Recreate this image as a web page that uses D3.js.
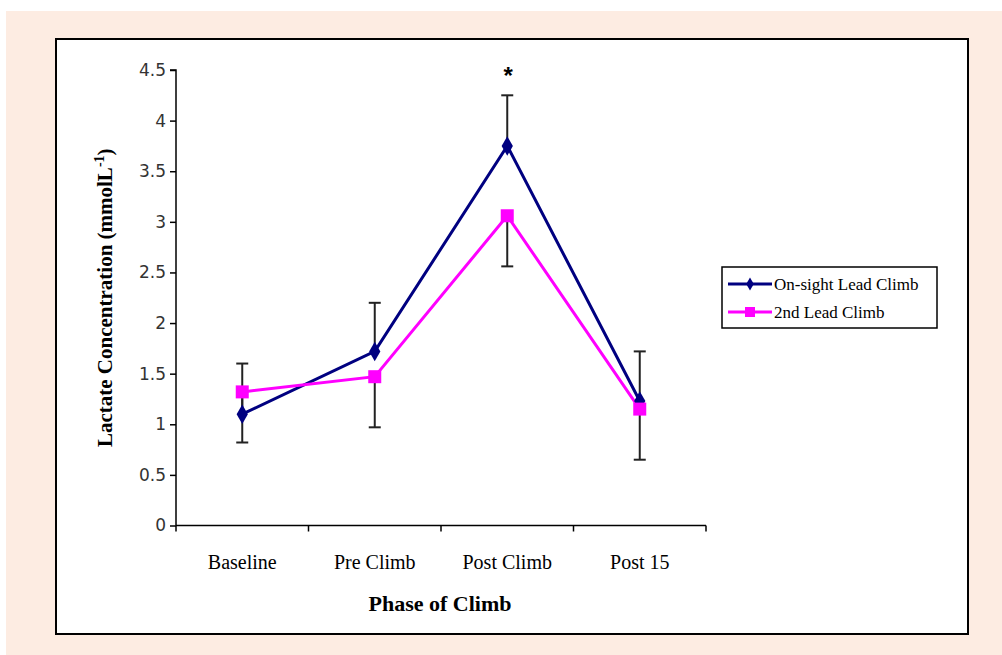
<!DOCTYPE html>
<html>
<head>
<meta charset="utf-8">
<script src="https://cdn.jsdelivr.net/npm/d3@7"></script>
<style>
  body { margin: 0; background: #fff; }
  svg { display: block; }
</style>
</head>
<body>
<div id="chart"></div>
<script>
// data
var phases = ['Baseline', 'Pre Climb', 'Post Climb', 'Post 15'];
var onsight = [1.1, 1.72, 3.75, 1.23];
var onsightErr = [0.5, 0.48, 0.5, 0.49];
var second = [1.32, 1.47, 3.06, 1.15];
var secondErr = [0.5, 0.5, 0.5, 0.5];
var yTicks = [0, 0.5, 1, 1.5, 2, 2.5, 3, 3.5, 4, 4.5];
var seriesNames = ['On-sight Lead Climb', '2nd Lead Climb'];

var W = 1002, H = 655;
var plot = { left: 176, right: 706, top: 70, bottom: 525.5 };
var serif = '"Liberation Serif", "Times New Roman", serif';

var svg = d3.select('#chart').append('svg')
  .attr('width', W)
  .attr('height', H);

svg.append('rect').attr('x', 6).attr('y', 11)
  .attr('width', W - 6).attr('height', H - 11)
  .attr('fill', '#fdece2');

svg.append('rect').attr('x', 56).attr('y', 39)
  .attr('width', 912).attr('height', 595)
  .attr('fill', '#fff').attr('stroke', '#000').attr('stroke-width', 2);

var x = d3.scaleBand().domain(phases).range([plot.left, plot.right]);
var y = d3.scaleLinear().domain([0, 4.5]).range([plot.bottom, plot.top]);
var cx = function(i) { return x(phases[i]) + x.bandwidth() / 2; };

// y axis
var yAxis = d3.axisLeft(y).tickValues(yTicks).tickSize(6).tickPadding(4)
  .tickFormat(function(d) { return d; });
var gy = svg.append('g').attr('transform', 'translate(' + plot.left + ',0)').call(yAxis);
gy.select('.domain').attr('stroke', '#000').attr('stroke-width', 1.5).attr('d', 'M-6,' + plot.top + 'H0V' + plot.bottom);
gy.selectAll('.tick line').attr('stroke', '#000').attr('stroke-width', 1.5);
gy.selectAll('.tick text')
  .attr('font-family', 'Tahoma, "DejaVu Sans", sans-serif')
  .attr('font-size', 17).attr('fill', '#333');

// x axis, ticks on category boundaries
var gx = svg.append('g').attr('transform', 'translate(0,' + plot.bottom + ')');
gx.append('line').attr('x1', plot.left).attr('x2', plot.right)
  .attr('stroke', '#000').attr('stroke-width', 1.5);
var bounds = phases.map(function(p) { return x(p); }).concat([plot.right]);
gx.selectAll('.xt').data(bounds).enter().append('line')
  .attr('x1', function(d) { return d; }).attr('x2', function(d) { return d; })
  .attr('y1', 0).attr('y2', 6)
  .attr('stroke', '#000').attr('stroke-width', 1.5);
gx.selectAll('.xl').data(phases).enter().append('text')
  .attr('x', function(d) { return x(d) + x.bandwidth() / 2; })
  .attr('y', 43)
  .attr('text-anchor', 'middle')
  .attr('font-family', serif)
  .attr('font-size', 20).attr('fill', '#000')
  .text(function(d) { return d; });

// axis titles
svg.append('text')
  .attr('x', (plot.left + plot.right) / 2 - 1).attr('y', 611)
  .attr('text-anchor', 'middle')
  .attr('font-family', serif)
  .attr('font-weight', 'bold').attr('font-size', 22)
  .text('Phase of Climb');

var yt = svg.append('text')
  .attr('transform', 'translate(112,' + ((plot.top + plot.bottom) / 2) + ') rotate(-90)')
  .attr('text-anchor', 'middle')
  .attr('font-family', serif)
  .attr('font-weight', 'bold').attr('font-size', 21);
yt.append('tspan').text('Lactate Concentration (mmolL');
yt.append('tspan').attr('dy', -8).attr('font-size', 14).text('-1');
yt.append('tspan').attr('dy', 8).text(')');

// error bars: on-sight upward, 2nd downward
function errBars(vals, errs, dir) {
  var g = svg.append('g').attr('stroke', '#222').attr('stroke-width', 2);
  vals.forEach(function(v, i) {
    var y2 = y(v + dir * errs[i]);
    g.append('line').attr('x1', cx(i)).attr('x2', cx(i)).attr('y1', y(v)).attr('y2', y2);
    g.append('line').attr('x1', cx(i) - 6).attr('x2', cx(i) + 6).attr('y1', y2).attr('y2', y2);
  });
}
errBars(onsight, onsightErr, 1);
errBars(second, secondErr, -1);

var line = d3.line()
  .x(function(d, i) { return cx(i); })
  .y(function(d) { return y(d); });

svg.append('path').attr('d', line(onsight))
  .attr('fill', 'none').attr('stroke', '#000080').attr('stroke-width', 3);
svg.append('path').attr('d', line(second))
  .attr('fill', 'none').attr('stroke', '#ff00ff').attr('stroke-width', 3);

var diamond = d3.symbol().type(d3.symbolDiamond).size(110);
svg.selectAll('.dm').data(onsight).enter().append('path')
  .attr('d', diamond)
  .attr('transform', function(d, i) { return 'translate(' + cx(i) + ',' + y(d) + ')'; })
  .attr('fill', '#000080');
svg.selectAll('.sq').data(second).enter().append('rect')
  .attr('x', function(d, i) { return cx(i) - 6.5; })
  .attr('y', function(d) { return y(d) - 6.5; })
  .attr('width', 13).attr('height', 13)
  .attr('fill', '#ff00ff');

// significance mark
svg.append('text')
  .attr('x', cx(2) + 1).attr('y', y(4.5) + 14)
  .attr('text-anchor', 'middle')
  .attr('font-family', '"Liberation Sans", Arial, sans-serif')
  .attr('font-weight', 'bold').attr('font-size', 24)
  .text('*');

// legend
var lg = svg.append('g').attr('transform', 'translate(722,267)');
lg.append('rect').attr('width', 215).attr('height', 61)
  .attr('fill', '#fff').attr('stroke', '#000').attr('stroke-width', 1.5);
var lcol = ['#000080', '#ff00ff'];
seriesNames.forEach(function(name, i) {
  var ly = 17 + i * 28;
  lg.append('line').attr('x1', 6).attr('x2', 50).attr('y1', ly).attr('y2', ly)
    .attr('stroke', lcol[i]).attr('stroke-width', 3);
  if (i === 0) {
    lg.append('path').attr('d', d3.symbol().type(d3.symbolDiamond).size(50))
      .attr('transform', 'translate(28,' + ly + ')').attr('fill', lcol[i]);
  } else {
    lg.append('rect').attr('x', 23).attr('y', ly - 5).attr('width', 10).attr('height', 10)
      .attr('fill', lcol[i]);
  }
  lg.append('text').attr('x', 52).attr('y', ly + 6)
    .attr('font-family', serif)
    .attr('font-size', 17).text(name);
});
</script>
</body>
</html>
